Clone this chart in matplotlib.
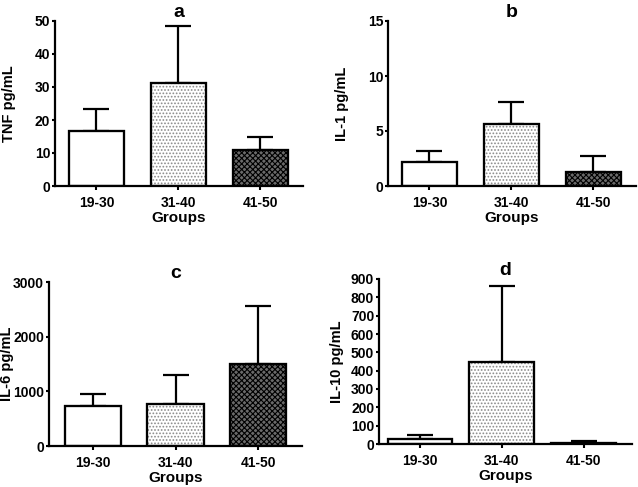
import matplotlib.pyplot as plt

plt.rcParams['font.family'] = ['Liberation Sans', 'DejaVu Sans']
plt.rcParams['font.weight'] = 'bold'
plt.rcParams['hatch.linewidth'] = 0.8

groups = ['19-30', '31-40', '41-50']

tnf_mean = [16.7, 31.2, 10.8]
tnf_upper = [23.3, 48.5, 15.0]
il1_mean = [2.2, 5.6, 1.3]
il1_upper = [3.2, 7.6, 2.7]
il6_mean = [740, 770, 1500]
il6_upper = [950, 1290, 2570]
il10_mean = [30, 445, 8]
il10_upper = [48, 860, 14]

W, H = 638, 487
fig = plt.figure(figsize=(W / 100, H / 100), dpi=100)


def px_axes(left, top, right, bottom):
    return fig.add_axes([left / W, 1 - bottom / H, (right - left) / W, (bottom - top) / H])


def panel(ax, mean, upper, title, ylabel, ylim, yticks, xlim, width, label_x):
    x = range(len(groups))
    err = [[0] * len(mean), [u - m for u, m in zip(upper, mean)]]
    ax.errorbar(x, mean, yerr=err, fmt='none', ecolor='black', elinewidth=1.6,
                capsize=9.5, capthick=1.6, zorder=1)
    fills = ['white', 'white', '#6a6a6a']
    hatches = [None, '.....', 'xxxxxx']
    hcolors = ['black', '#8a8a8a', 'black']
    for i in x:
        b = ax.bar(i, mean[i], width=width, color=fills[i], edgecolor='black',
                   linewidth=1.5, hatch=hatches[i], zorder=2)
        b[0]._hatch_color = plt.matplotlib.colors.to_rgba(hcolors[i])
        ax.bar(i, mean[i], width=width, fill=False, edgecolor='black',
               linewidth=1.6, zorder=3)
    ax.set_xlim(*xlim)
    ax.set_ylim(*ylim)
    ax.set_yticks(yticks)
    ax.set_xticks(list(x))
    ax.set_xticklabels(groups)
    ax.set_title(title, fontsize=14, fontweight='bold', pad=2)
    ax.set_ylabel(ylabel, fontsize=10.5, fontweight='bold')
    # y label: label_x is the pixel column of its right edge
    bbox = ax.get_position()
    ax.yaxis.set_label_coords((label_x / W - bbox.x0) / bbox.width, 0.5)
    ax.set_xlabel('Groups', fontsize=11, fontweight='bold', labelpad=1)
    ax.spines['top'].set_visible(False)
    ax.spines['right'].set_visible(False)
    for s in ('left', 'bottom'):
        ax.spines[s].set_linewidth(1.6)
    ax.tick_params(axis='y', length=2.5, width=1.5, labelsize=10, pad=1)
    ax.tick_params(axis='x', length=3, width=1.5, labelsize=10, pad=4)


ax1 = px_axes(55, 21, 303, 186)
panel(ax1, tnf_mean, tnf_upper, 'a', 'TNF pg/mL', (0, 50), [0, 10, 20, 30, 40, 50],
      (-0.506, 2.52), 0.67, 16)

ax2 = px_axes(388, 21, 636, 186)
panel(ax2, il1_mean, il1_upper, 'b', 'IL-1 pg/mL', (0, 15), [0, 5, 10, 15],
      (-0.506, 2.52), 0.67, 349)

ax3 = px_axes(49, 282, 302, 446)
panel(ax3, il6_mean, il6_upper, 'c', 'IL-6 pg/mL', (0, 3000), [0, 1000, 2000, 3000],
      (-0.53, 2.53), 0.68, 14)

ax4 = px_axes(379, 279, 632, 444)
panel(ax4, il10_mean, il10_upper, 'd', 'IL-10 pg/mL', (0, 900), list(range(0, 901, 100)),
      (-0.5, 2.59), 0.79, 344)

fig.savefig('out.png', dpi=100)
